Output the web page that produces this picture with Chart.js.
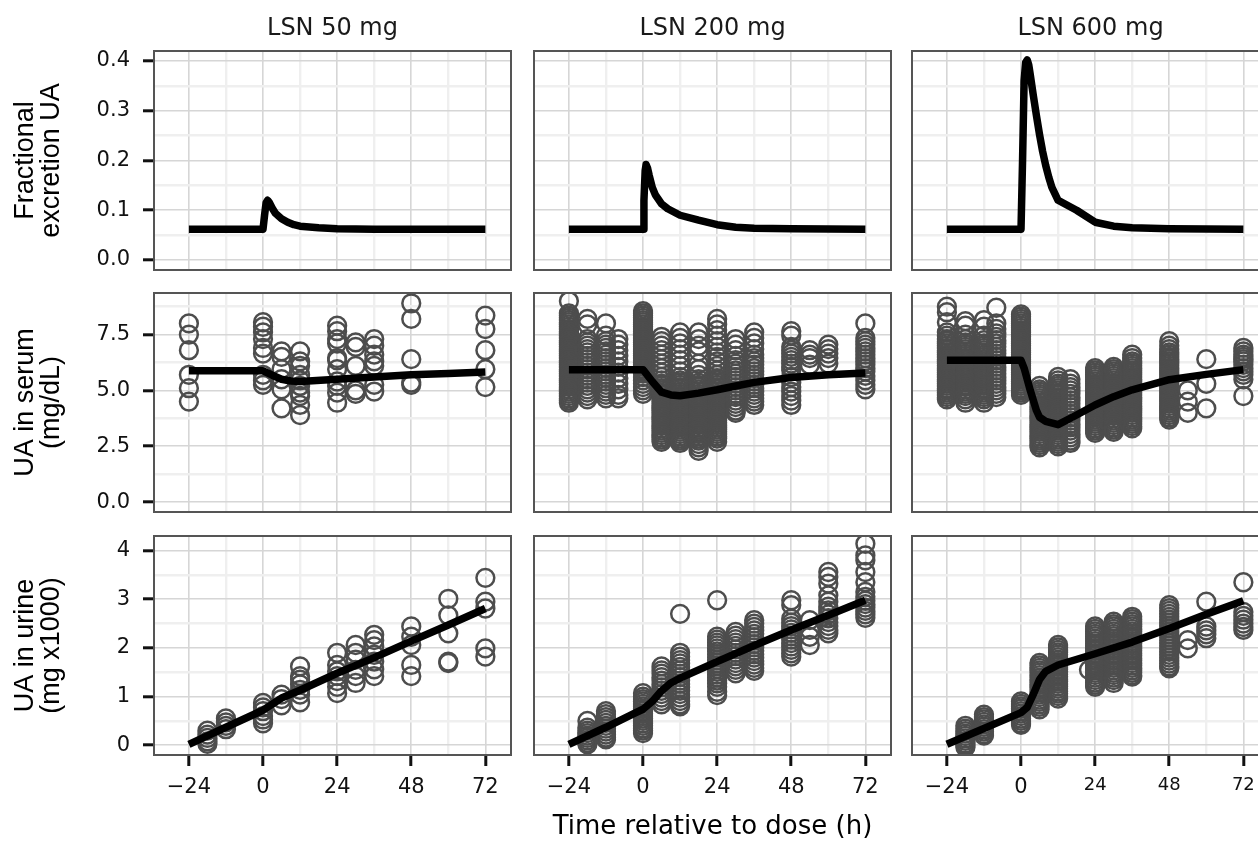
<!DOCTYPE html>
<html><head><meta charset="utf-8">
<script src="https://cdn.jsdelivr.net/npm/chart.js@4.4.1/dist/chart.umd.min.js"></script>
<style>
html,body{margin:0;padding:0;overflow:hidden;background:#fff;width:1258px;height:844px;position:relative;}
canvas{position:absolute;}
</style></head><body>
<script>
// ---------------- data ----------------
const doseLabels = ['LSN 50 mg', 'LSN 200 mg', 'LSN 600 mg'];
const rowTitles = [['Fractional', 'excretion UA'], ['UA in serum', '(mg/dL)'], ['UA in urine', '(mg x1000)']];
const xTitle = 'Time relative to dose (h)';

const xMajorTicks = [-24, 0, 24, 48, 72];
const xMinorTicks = [-12, 12, 36, 60];
const xTickLabels = ['\u221224', '0', '24', '48', '72'];

const feTicks = [0, 0.1, 0.2, 0.3, 0.4];
const feMinorTicks = [0.05, 0.15, 0.25, 0.35];
const feTickLabels = ['0.0', '0.1', '0.2', '0.3', '0.4'];
const serumTicks = [0, 2.5, 5, 7.5];
const serumMinorTicks = [1.25, 3.75, 6.25, 8.75];
const serumTickLabels = ['0.0', '2.5', '5.0', '7.5'];
const urineTicks = [0, 1, 2, 3, 4];
const urineMinorTicks = [0.5, 1.5, 2.5, 3.5];
const urineTickLabels = ['0', '1', '2', '3', '4'];

// model curves [time, value]
const fe50 = [[-24,0.062],[0,0.062],[0.5,0.09],[1,0.115],[1.5,0.12],[2,0.116],[3,0.104],[4,0.094],[6,0.083],[8,0.076],[10,0.071],[12,0.068],[18,0.065],[24,0.063],[36,0.062],[72,0.062]];
const fe200 = [[-24,0.062],[0,0.062],[0.3,0.12],[0.7,0.18],[1,0.192],[1.5,0.184],[2,0.17],[3,0.146],[4,0.131],[6,0.113],[8,0.103],[12,0.09],[18,0.08],[24,0.071],[30,0.066],[36,0.064],[48,0.063],[72,0.062]];
const fe600 = [[-24,0.062],[0,0.062],[0.5,0.2],[1,0.36],[1.5,0.397],[2,0.402],[2.5,0.392],[3,0.372],[4,0.33],[5,0.29],[6,0.252],[7,0.218],[8,0.19],[9,0.166],[10,0.146],[12,0.12],[18,0.1],[24,0.076],[30,0.068],[36,0.065],[48,0.063],[72,0.062]];

const serum50Line = [[-24,5.88],[0,5.88],[3,5.68],[6,5.5],[9,5.42],[12,5.4],[24,5.5],[36,5.6],[48,5.7],[60,5.76],[72,5.82]];
const serum200Line = [[-24,5.93],[0,5.93],[3,5.4],[6,4.92],[9,4.8],[12,4.76],[18,4.88],[24,5.03],[30,5.2],[36,5.36],[48,5.58],[60,5.7],[72,5.78]];
const serum600Line = [[-24,6.35],[0,6.35],[1,6.0],[3,5.0],[5,4.1],[6,3.8],[8,3.62],[12,3.47],[18,3.9],[24,4.35],[30,4.72],[36,5.03],[48,5.48],[60,5.72],[72,5.93]];

const urine50Line = [[-24,0.02],[-12,0.37],[0,0.72],[6,0.97],[12,1.13],[24,1.48],[36,1.8],[48,2.14],[60,2.47],[72,2.81]];
const urine200Line = [[-24,0.02],[-12,0.37],[-3,0.65],[0,0.74],[3,0.9],[6,1.12],[9,1.28],[12,1.38],[24,1.72],[36,2.05],[48,2.37],[60,2.67],[72,2.98]];
const urine600Line = [[-24,0.02],[0,0.67],[2,0.78],[4,1.05],[6,1.35],[8,1.52],[12,1.65],[24,1.88],[36,2.12],[48,2.4],[60,2.69],[72,2.97]];

// observations [time, [values]]
const serum50Obs = [
  [-24, [8.0, 7.5, 6.8, 5.7, 5.1, 4.5]],
  [0, [8.05, 7.85, 7.6, 7.3, 6.9, 6.65, 5.7, 5.45, 5.25]],
  [6, [6.75, 6.5, 5.95, 5.5, 5.05, 4.2]],
  [12, [6.75, 6.3, 6.1, 5.7, 5.45, 5.2, 4.9, 4.75, 4.35, 3.9]],
  [24, [7.9, 7.65, 7.3, 7.1, 6.45, 6.35, 5.95, 5.4, 5.2, 4.9, 4.45]],
  [30, [7.15, 6.95, 6.1, 5.0, 4.85]],
  [36, [7.3, 7.0, 6.6, 6.3, 6.1, 5.25, 4.95]],
  [48, [8.9, 8.2, 6.4, 5.35, 5.25]],
  [72, [8.35, 7.75, 6.8, 5.95, 5.15]]
];
const serum200Obs = [
  [-24, [9.0, 8.45, 8.35, 8.25, 8.15, 8.05, 7.95, 7.85, 7.75, 7.65, 7.55, 7.45, 7.35, 7.25, 7.15, 7.05, 6.95, 6.85, 6.75, 6.65, 6.55, 6.45, 6.35, 6.25, 6.15, 6.05, 5.95, 5.85, 5.75, 5.65, 5.55, 5.45, 5.35, 5.25, 5.15, 5.05, 4.95, 4.85, 4.75, 4.65, 4.55, 4.45]],
  [-18, [8.2, 7.95, 7.3, 7.15, 7.0, 6.85, 6.7, 6.55, 6.4, 6.25, 6.1, 5.95, 5.8, 5.65, 5.5, 5.35, 5.2, 5.05, 4.9, 4.75, 4.6]],
  [-12, [8.0, 7.45, 7.2, 7.05, 6.9, 6.75, 6.6, 6.45, 6.3, 6.15, 6.0, 5.85, 5.7, 5.55, 5.4, 5.25, 5.1, 4.95, 4.8, 4.65]],
  [-8, [7.3, 7.05, 6.8, 6.55, 6.3, 6.05, 5.8, 5.55, 5.3, 5.05, 4.8, 4.65]],
  [0, [8.55, 8.45, 8.35, 8.25, 8.15, 8.05, 7.95, 7.85, 7.75, 7.65, 7.55, 7.45, 7.35, 7.25, 7.15, 7.05, 6.95, 6.85, 6.75, 6.65, 6.55, 6.45, 6.35, 6.25, 6.15, 6.05, 5.95, 5.85, 5.75, 5.6, 5.45, 5.3, 5.15, 5.0, 4.85]],
  [6, [7.4, 7.2, 7.0, 6.8, 6.6, 6.4, 6.2, 6.0, 5.8, 5.6, 5.45, 5.3, 5.2, 5.1, 5.0, 4.9, 4.8, 4.7, 4.6, 4.5, 4.4, 4.3, 4.2, 4.1, 4.0, 3.9, 3.8, 3.7, 3.6, 3.5, 3.4, 3.3, 3.2, 3.1, 3.0, 2.9, 2.8, 2.7]],
  [12, [7.6, 7.35, 7.1, 6.85, 6.6, 6.35, 6.1, 5.85, 5.6, 5.45, 5.35, 5.25, 5.15, 5.05, 4.95, 4.85, 4.75, 4.65, 4.55, 4.45, 4.35, 4.25, 4.15, 4.05, 3.95, 3.85, 3.75, 3.65, 3.55, 3.45, 3.35, 3.25, 3.15, 3.05, 2.95, 2.85, 2.75, 2.65]],
  [18, [7.6, 7.3, 7.0, 6.75, 6.2, 5.95, 5.7, 5.5, 5.35, 5.25, 5.15, 5.05, 4.95, 4.85, 4.75, 4.65, 4.55, 4.45, 4.35, 4.25, 4.15, 4.05, 3.95, 3.85, 3.75, 3.65, 3.55, 3.45, 3.35, 3.25, 3.15, 3.05, 2.95, 2.85, 2.75, 2.6, 2.45, 2.3]],
  [24, [8.2, 7.95, 7.7, 7.45, 7.2, 6.95, 6.7, 6.5, 6.3, 6.1, 5.9, 5.7, 5.55, 5.45, 5.35, 5.25, 5.15, 5.05, 4.95, 4.85, 4.75, 4.65, 4.55, 4.45, 4.35, 4.25, 4.15, 4.05, 3.95, 3.85, 3.75, 3.65, 3.55, 3.45, 3.35, 3.25, 3.15, 3.05, 2.95, 2.85, 2.7]],
  [30, [7.3, 7.05, 6.8, 6.55, 6.35, 6.2, 6.05, 5.9, 5.75, 5.6, 5.45, 5.3, 5.15, 5.0, 4.85, 4.7, 4.55, 4.4, 4.25, 4.1, 4.0]],
  [36, [7.6, 7.35, 7.1, 6.85, 6.6, 6.45, 6.3, 6.15, 6.0, 5.85, 5.7, 5.55, 5.4, 5.25, 5.1, 4.95, 4.8, 4.65, 4.5, 4.35]],
  [48, [7.65, 7.45, 6.95, 6.8, 6.65, 6.5, 6.35, 6.2, 6.05, 5.9, 5.6, 5.35, 5.15, 4.95, 4.75, 4.55, 4.35]],
  [54, [6.8, 6.6, 6.45, 6.15]],
  [60, [7.05, 6.85, 6.65, 6.45, 6.2]],
  [72, [8.0, 7.35, 7.2, 7.05, 6.9, 6.75, 6.6, 6.45, 6.3, 6.15, 6.0, 5.85, 5.65, 5.45, 5.25, 5.05]]
];
const serum600Obs = [
  [-24, [8.75, 8.5, 8.05, 7.6, 7.45, 7.3, 7.2, 7.1, 7.0, 6.9, 6.8, 6.7, 6.6, 6.5, 6.4, 6.3, 6.2, 6.1, 6.0, 5.9, 5.8, 5.7, 5.6, 5.5, 5.4, 5.3, 5.2, 5.1, 5.0, 4.9, 4.8, 4.7, 4.6]],
  [-18, [8.1, 7.9, 7.5, 7.3, 7.15, 7.05, 6.95, 6.85, 6.75, 6.65, 6.55, 6.45, 6.35, 6.25, 6.15, 6.05, 5.95, 5.85, 5.75, 5.65, 5.55, 5.45, 5.35, 5.25, 5.15, 5.05, 4.95, 4.85, 4.75, 4.6, 4.45]],
  [-12, [8.15, 7.85, 7.45, 7.25, 7.1, 7.0, 6.9, 6.8, 6.7, 6.6, 6.5, 6.4, 6.3, 6.2, 6.1, 6.0, 5.9, 5.8, 5.7, 5.6, 5.5, 5.4, 5.3, 5.2, 5.1, 5.0, 4.9, 4.8, 4.7, 4.6, 4.45]],
  [-8, [8.7, 8.0, 7.75, 7.55, 7.4, 7.25, 7.1, 6.95, 6.8, 6.65, 6.5, 6.35, 6.2, 6.05, 5.9, 5.75, 5.6, 5.45, 5.3, 5.15, 5.0, 4.85, 4.7]],
  [0, [8.4, 8.3, 8.2, 8.1, 8.0, 7.9, 7.8, 7.7, 7.6, 7.5, 7.4, 7.3, 7.2, 7.1, 7.0, 6.9, 6.8, 6.7, 6.6, 6.5, 6.4, 6.3, 6.2, 6.1, 6.0, 5.9, 5.8, 5.7, 5.6, 5.5, 5.4, 5.3, 5.2, 5.1, 5.0, 4.9, 4.8]],
  [6, [5.2, 5.05, 4.95, 4.85, 4.75, 4.65, 4.55, 4.45, 4.35, 4.25, 4.15, 4.05, 3.95, 3.85, 3.75, 3.65, 3.55, 3.45, 3.35, 3.25, 3.15, 3.05, 2.95, 2.85, 2.75, 2.65, 2.55, 2.45]],
  [12, [5.6, 5.45, 5.3, 5.2, 5.1, 5.0, 4.9, 4.8, 4.7, 4.6, 4.5, 4.4, 4.3, 4.2, 4.1, 4.0, 3.9, 3.8, 3.7, 3.6, 3.5, 3.4, 3.3, 3.2, 3.1, 3.0, 2.9, 2.8, 2.7, 2.6, 2.5]],
  [16, [5.5, 5.3, 5.15, 5.0, 4.85, 4.7, 4.55, 4.4, 4.25, 4.1, 3.95, 3.8, 3.65, 3.5, 3.35, 3.2, 3.05, 2.9, 2.75, 2.65]],
  [24, [6.0, 5.9, 5.8, 5.7, 5.6, 5.5, 5.4, 5.3, 5.2, 5.1, 5.0, 4.9, 4.8, 4.7, 4.6, 4.5, 4.4, 4.3, 4.2, 4.1, 4.0, 3.9, 3.8, 3.7, 3.6, 3.5, 3.4, 3.3, 3.2, 3.1]],
  [30, [6.05, 5.95, 5.85, 5.75, 5.65, 5.55, 5.45, 5.35, 5.25, 5.15, 5.05, 4.95, 4.85, 4.75, 4.65, 4.55, 4.45, 4.35, 4.25, 4.15, 4.05, 3.95, 3.85, 3.75, 3.65, 3.55, 3.45, 3.35, 3.25, 3.15]],
  [36, [6.6, 6.45, 6.3, 6.2, 6.1, 6.0, 5.9, 5.8, 5.7, 5.6, 5.5, 5.4, 5.3, 5.2, 5.1, 5.0, 4.9, 4.8, 4.7, 4.6, 4.5, 4.4, 4.3, 4.2, 4.1, 4.0, 3.9, 3.8, 3.7, 3.6, 3.5, 3.4, 3.3]],
  [48, [7.2, 7.0, 6.85, 6.7, 6.6, 6.5, 6.4, 6.3, 6.2, 6.1, 6.0, 5.9, 5.8, 5.7, 5.6, 5.5, 5.4, 5.3, 5.2, 5.1, 5.0, 4.9, 4.8, 4.7, 4.6, 4.5, 4.4, 4.3, 4.2, 4.1, 4.0, 3.9, 3.8, 3.7]],
  [54, [5.0, 4.5, 4.0]],
  [60, [6.4, 5.3, 4.2]],
  [72, [6.9, 6.75, 6.6, 6.5, 6.4, 6.3, 6.15, 6.0, 5.85, 5.7, 5.5, 4.75]]
];
const urine50Obs = [
  [-18, [0.3, 0.22, 0.15, 0.08, 0.03]],
  [-12, [0.55, 0.47, 0.4, 0.33]],
  [0, [0.87, 0.78, 0.7, 0.6, 0.53, 0.45]],
  [6, [1.04, 0.95, 0.82]],
  [12, [1.62, 1.42, 1.35, 1.25, 1.14, 1.04, 0.88]],
  [24, [1.9, 1.65, 1.52, 1.42, 1.32, 1.2, 1.07]],
  [30, [2.06, 1.9, 1.76, 1.55, 1.42, 1.28]],
  [36, [2.27, 2.16, 2.03, 1.86, 1.72, 1.56, 1.42]],
  [48, [2.44, 2.23, 2.06, 1.65, 1.42]],
  [60, [3.01, 2.67, 2.3, 1.72, 1.69]],
  [72, [3.44, 2.95, 2.81, 1.99, 1.82]]
];
const urine200Obs = [
  [-18, [0.5, 0.36, 0.3, 0.25, 0.2, 0.15, 0.1, 0.05, 0.02]],
  [-12, [0.7, 0.64, 0.58, 0.52, 0.46, 0.4, 0.34, 0.28, 0.22, 0.16, 0.12]],
  [0, [1.07, 1.0, 0.95, 0.9, 0.85, 0.8, 0.75, 0.7, 0.65, 0.6, 0.55, 0.5, 0.45, 0.4, 0.35, 0.3, 0.25]],
  [6, [1.62, 1.54, 1.47, 1.4, 1.33, 1.26, 1.19, 1.12, 1.05, 0.98, 0.91, 0.84]],
  [12, [2.7, 1.9, 1.82, 1.75, 1.68, 1.61, 1.54, 1.47, 1.4, 1.33, 1.26, 1.19, 1.12, 1.05, 0.98, 0.91, 0.84, 0.8]],
  [24, [2.98, 2.23, 2.17, 2.11, 2.05, 1.99, 1.93, 1.87, 1.81, 1.75, 1.69, 1.63, 1.57, 1.51, 1.45, 1.39, 1.33, 1.27, 1.2, 1.1, 1.03]],
  [30, [2.33, 2.25, 2.18, 2.11, 2.04, 1.97, 1.9, 1.83, 1.76, 1.69, 1.62, 1.55, 1.48]],
  [36, [2.57, 2.5, 2.43, 2.36, 2.29, 2.22, 2.15, 2.08, 2.01, 1.94, 1.87, 1.8, 1.73, 1.66, 1.59, 1.53]],
  [48, [2.98, 2.88, 2.6, 2.52, 2.45, 2.38, 2.31, 2.24, 2.17, 2.1, 2.03, 1.96, 1.89, 1.82]],
  [54, [2.57, 2.37, 2.23, 2.06]],
  [60, [3.56, 3.46, 3.32, 3.08, 2.95, 2.85, 2.77, 2.69, 2.61, 2.53, 2.45, 2.37, 2.3]],
  [72, [4.14, 3.9, 3.8, 3.56, 3.35, 3.15, 3.05, 2.97, 2.9, 2.83, 2.76, 2.69, 2.62]]
];
const urine600Obs = [
  [-18, [0.4, 0.34, 0.29, 0.24, 0.19, 0.14, 0.09, 0.04, 0.0, -0.04]],
  [-12, [0.63, 0.58, 0.53, 0.48, 0.43, 0.38, 0.33, 0.28, 0.23, 0.2]],
  [0, [0.9, 0.85, 0.8, 0.75, 0.7, 0.65, 0.6, 0.55, 0.5, 0.45, 0.42]],
  [6, [1.69, 1.64, 1.59, 1.54, 1.49, 1.44, 1.39, 1.34, 1.29, 1.24, 1.19, 1.14, 1.09, 1.04, 0.99, 0.94, 0.89, 0.84, 0.79, 0.74]],
  [12, [2.06, 2.01, 1.96, 1.91, 1.86, 1.81, 1.76, 1.71, 1.66, 1.61, 1.56, 1.51, 1.46, 1.41, 1.36, 1.31, 1.26, 1.21, 1.16, 1.11, 1.06, 1.01, 0.96]],
  [22, [1.55]],
  [24, [2.44, 2.39, 2.34, 2.29, 2.24, 2.19, 2.14, 2.09, 2.04, 1.99, 1.94, 1.89, 1.84, 1.79, 1.74, 1.69, 1.64, 1.59, 1.54, 1.49, 1.44, 1.39, 1.34, 1.29, 1.24, 1.2]],
  [30, [2.54, 2.49, 2.44, 2.39, 2.34, 2.29, 2.24, 2.19, 2.14, 2.09, 2.04, 1.99, 1.94, 1.89, 1.84, 1.79, 1.74, 1.69, 1.64, 1.59, 1.54, 1.49, 1.44, 1.39, 1.34, 1.28]],
  [36, [2.64, 2.59, 2.54, 2.49, 2.44, 2.39, 2.34, 2.29, 2.24, 2.19, 2.14, 2.09, 2.04, 1.99, 1.94, 1.89, 1.84, 1.79, 1.74, 1.69, 1.64, 1.59, 1.54, 1.49, 1.44, 1.41]],
  [48, [2.88, 2.82, 2.76, 2.7, 2.64, 2.58, 2.52, 2.46, 2.4, 2.34, 2.28, 2.22, 2.16, 2.1, 2.04, 1.98, 1.92, 1.86, 1.8, 1.74, 1.68, 1.62, 1.58]],
  [54, [2.16, 1.99]],
  [60, [2.95, 2.44, 2.36, 2.28, 2.2]],
  [72, [3.35, 2.74, 2.66, 2.58, 2.5, 2.43, 2.37]]
];

// ---------------- layout / style ----------------
const FONT = "'DejaVu Sans', sans-serif";
const FONT_ROT = "'Liberation Sans', Arial, Helvetica, sans-serif";
Chart.defaults.font.family = FONT;
const colLeft = [154, 534, 912], plotW = 357;
const rowTop = [51, 293, 536], plotH = 219;
const xRange = [-35.3, 80.3];
const rows = [
  {range: [-0.02, 0.42], major: feTicks, minor: feMinorTicks, labels: feTickLabels, lines: [fe50, fe200, fe600], obs: [null, null, null]},
  {range: [-0.44, 9.36], major: serumTicks, minor: serumMinorTicks, labels: serumTickLabels, lines: [serum50Line, serum200Line, serum600Line], obs: [serum50Obs, serum200Obs, serum600Obs]},
  {range: [-0.2, 4.3], major: urineTicks, minor: urineMinorTicks, labels: urineTickLabels, lines: [urine50Line, urine200Line, urine600Line], obs: [urine50Obs, urine200Obs, urine600Obs]}
];
const MAJOR_GRID = '#d6d6d6', MINOR_GRID = '#efefef', TICK_COLOR = '#111';

const panelBox = {
  id: 'panelBox',
  afterDatasetsDraw(chart) {
    const {ctx, chartArea: a} = chart;
    ctx.save(); ctx.strokeStyle = '#555'; ctx.lineWidth = 2;
    ctx.strokeRect(a.left, a.top, a.right - a.left, a.bottom - a.top);
    ctx.restore();
  }
};
const stripText = {
  id: 'stripText',
  afterDraw(chart, args, opts) {
    if (!opts || !opts.text) return;
    const {ctx, chartArea: a} = chart;
    ctx.save(); ctx.fillStyle = '#1a1a1a'; ctx.font = '24px ' + FONT;
    ctx.textAlign = 'center'; ctx.textBaseline = 'middle';
    ctx.fillText(opts.text, (a.left + a.right) / 2, a.top - 22.5);
    ctx.restore();
  }
};

function isMajor(list, tick) { return tick && list.some(v => Math.abs(v - tick.value) < 1e-9); }

for (let r = 0; r < 3; r++) {
  for (let c = 0; c < 3; c++) {
    const row = rows[r];
    const isLeft = c === 0, isTop = r === 0, isBottom = r === 2;
    const axisW = isLeft ? 154 : 0, axisH = isBottom ? 89 : 0, PAD = 3;
    const padL = isLeft ? 0 : PAD, padT = isTop ? 51 : PAD, padR = PAD, padB = isBottom ? 0 : PAD;
    const cv = document.createElement('canvas');
    const cw = padL + axisW + plotW + padR, ch = padT + plotH + axisH + padB;
    cv.width = cw; cv.height = ch;
    cv.style.left = (colLeft[c] - axisW - padL) + 'px';
    cv.style.top = (rowTop[r] - padT) + 'px';
    cv.style.width = cw + 'px'; cv.style.height = ch + 'px';
    document.body.appendChild(cv);

    const datasets = [{
      data: row.lines[c].map(([t, v]) => ({x: t, y: v})),
      showLine: true, pointRadius: 0, borderColor: '#000', borderWidth: 7.5,
      borderJoinStyle: 'round', borderCapStyle: 'butt', tension: 0, fill: false, order: 0
    }];
    if (row.obs[c]) {
      datasets.push({
        data: row.obs[c].flatMap(([t, vs]) => vs.map(v => ({x: t, y: v}))),
        showLine: false, pointRadius: 8.9, pointBorderWidth: 2.5,
        pointBorderColor: '#4d4d4d', pointBackgroundColor: 'rgba(0,0,0,0)', order: 1
      });
    }

    new Chart(cv, {
      type: 'scatter',
      data: {datasets},
      plugins: [panelBox, stripText],
      options: {
        responsive: false, animation: false, devicePixelRatio: 1, events: [],
        layout: {autoPadding: false, padding: {left: padL, right: padR, top: padT, bottom: padB}},
        plugins: {legend: {display: false}, tooltip: {enabled: false}, title: {display: false},
          stripText: {text: isTop ? doseLabels[c] : ''}},
        scales: {
          x: {
            type: 'linear', min: xRange[0], max: xRange[1],
            afterBuildTicks: s => { s.ticks = [...xMajorTicks, ...xMinorTicks].sort((a, b) => a - b).map(v => ({value: v})); },
            afterFit: s => { s.height = axisH; s.paddingLeft = 0; s.paddingRight = 0; },
            border: {display: false},
            grid: {
              color: ctx => isMajor(xMajorTicks, ctx.tick) ? MAJOR_GRID : MINOR_GRID,
              lineWidth: ctx => isMajor(xMajorTicks, ctx.tick) ? 1.6 : 2.4,
              drawTicks: isBottom, tickLength: 11,
              tickColor: ctx => isMajor(xMajorTicks, ctx.tick) ? TICK_COLOR : 'rgba(0,0,0,0)',
              tickWidth: 3
            },
            ticks: {
              display: isBottom, autoSkip: false, maxRotation: 0, padding: 9, color: '#111',
              callback: v => { const i = xMajorTicks.indexOf(v); return i >= 0 ? xTickLabels[i] : ''; },
              font: ctx => ({family: FONT, size: (c === 2 && ctx.tick && ctx.tick.value > 0) ? 18 : 21})
            },
            title: {display: isBottom && c === 1, text: xTitle, color: '#000',
              font: {family: FONT, size: 26, lineHeight: 1}, padding: {top: 0, bottom: 4}}
          },
          y: {
            type: 'linear', min: row.range[0], max: row.range[1],
            afterBuildTicks: s => { s.ticks = [...row.major, ...row.minor].sort((a, b) => a - b).map(v => ({value: v})); },
            afterFit: s => { s.width = axisW; s.paddingTop = 0; s.paddingBottom = 0; },
            border: {display: false},
            grid: {
              color: ctx => isMajor(row.major, ctx.tick) ? MAJOR_GRID : MINOR_GRID,
              lineWidth: ctx => isMajor(row.major, ctx.tick) ? 1.6 : 2.4,
              drawTicks: isLeft, tickLength: 11,
              tickColor: ctx => isMajor(row.major, ctx.tick) ? TICK_COLOR : 'rgba(0,0,0,0)',
              tickWidth: 3
            },
            ticks: {
              display: isLeft, autoSkip: false, padding: 13, color: '#111',
              callback: v => { const i = row.major.findIndex(m => Math.abs(m - v) < 1e-9); return i >= 0 ? row.labels[i] : ''; },
              font: {family: FONT, size: 21}
            },
            title: {display: isLeft, text: rowTitles[r], color: '#000',
              font: {family: FONT_ROT, size: 27, lineHeight: 26 / 27}, padding: {top: 13, bottom: 0}}
          }
        }
      }
    });
  }
}
</script>
</body></html>
